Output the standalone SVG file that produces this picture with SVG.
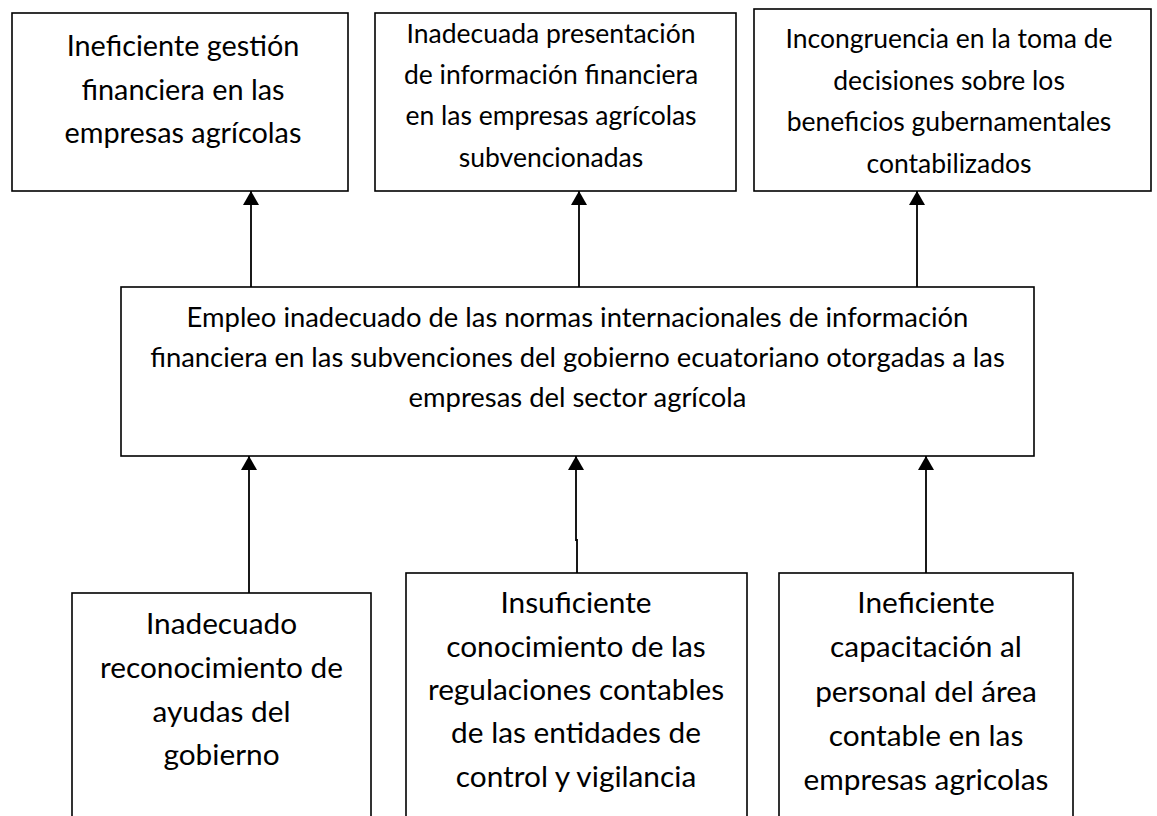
<svg xmlns="http://www.w3.org/2000/svg" width="1157" height="816" viewBox="0 0 1157 816">
<style>
.box{fill:#fff;stroke:#000;stroke-width:1.6}
.t{font-family:Lato,"Liberation Sans",sans-serif;fill:#000;text-anchor:middle}
.edge{stroke:#000;stroke-width:1.8;fill:none;marker-end:url(#ah)}
</style>
<defs>
<marker id="ah" markerUnits="userSpaceOnUse" markerWidth="15" markerHeight="16" refX="14" refY="8" orient="auto" viewBox="0 0 15 16">
<path d="M0,0 L14,8 L0,16 z" fill="#000"/>
</marker>
</defs>
<rect width="1157" height="816" fill="#fff"/>
<g id="n1">
<rect class="box" x="12" y="13" width="336" height="178"/>
<text class="t" font-size="28.8"><tspan x="183" y="56">Ineficiente gestión</tspan><tspan x="183" y="100">financiera en las</tspan><tspan x="183" y="143">empresas agrícolas</tspan></text>
</g>
<g id="n2">
<rect class="box" x="375" y="13" width="361" height="178"/>
<text class="t" font-size="26.5"><tspan x="551" y="43">Inadecuada presentación</tspan><tspan x="551" y="84">de información financiera</tspan><tspan x="551" y="125">en las empresas agrícolas</tspan><tspan x="551" y="167">subvencionadas</tspan></text>
</g>
<g id="n3">
<rect class="box" x="754" y="9" width="397" height="182"/>
<text class="t" font-size="26.5"><tspan x="949" y="48">Incongruencia en la toma de</tspan><tspan x="949" y="89.5">decisiones sobre los</tspan><tspan x="949" y="131">beneficios gubernamentales</tspan><tspan x="949" y="172.5">contabilizados</tspan></text>
</g>
<g id="n4">
<rect class="box" x="121" y="287" width="913" height="169"/>
<text class="t" font-size="27.4"><tspan x="577.5" y="327">Empleo inadecuado de las normas internacionales de información</tspan><tspan x="577.5" y="367">financiera en las subvenciones del gobierno ecuatoriano otorgadas a las</tspan><tspan x="577.5" y="407">empresas del sector agrícola</tspan></text>
</g>
<g id="n5">
<rect class="box" x="72" y="593" width="299" height="240"/>
<text class="t" font-size="29.8"><tspan x="221.5" y="634">Inadecuado</tspan><tspan x="221.5" y="678">reconocimiento de</tspan><tspan x="221.5" y="722">ayudas del</tspan><tspan x="221.5" y="765">gobierno</tspan></text>
</g>
<g id="n6">
<rect class="box" x="406" y="573" width="341" height="260"/>
<text class="t" font-size="29.8"><tspan x="576" y="613">Insuficiente</tspan><tspan x="576" y="657">conocimiento de las</tspan><tspan x="576" y="700">regulaciones contables</tspan><tspan x="576" y="743">de las entidades de</tspan><tspan x="576" y="787">control y vigilancia</tspan></text>
</g>
<g id="n7">
<rect class="box" x="779" y="573" width="294" height="260"/>
<text class="t" font-size="29.8"><tspan x="926" y="613">Ineficiente</tspan><tspan x="926" y="657">capacitación al</tspan><tspan x="926" y="702">personal del área</tspan><tspan x="926" y="746">contable en las</tspan><tspan x="926" y="790">empresas agricolas</tspan></text>
</g>
<g id="connectors">
<path class="edge" d="M251,287 V191"/>
<path class="edge" d="M579,287 V191"/>
<path class="edge" d="M917,287 V191"/>
<path class="edge" d="M249,593 V456"/>
<path class="edge" d="M577,573 V540 H576 V456"/>
<path class="edge" d="M926,573 V456"/>
</g>
</svg>
